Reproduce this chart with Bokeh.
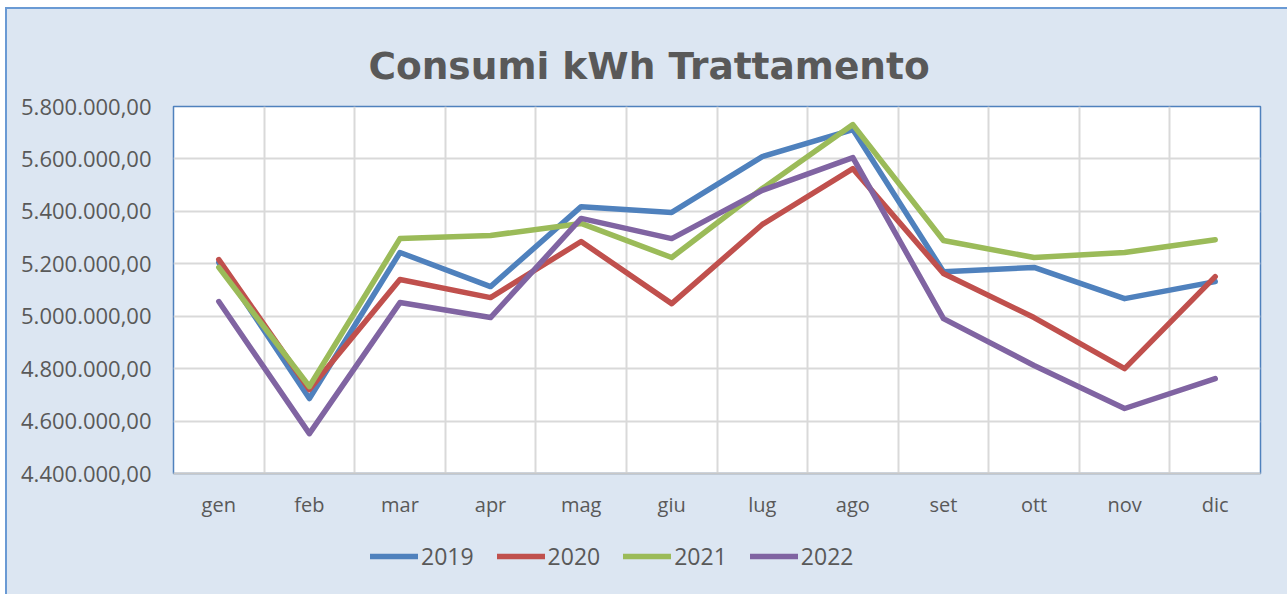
from bokeh.plotting import figure
from bokeh.layouts import column, row
from bokeh.models import FixedTicker, Legend, LegendItem, Range1d, Spacer, Label
from bokeh.embed import file_html
from bokeh.resources import INLINE

months = ["gen", "feb", "mar", "apr", "mag", "giu", "lug", "ago", "set", "ott", "nov", "dic"]
years = ["2019", "2020", "2021", "2022"]
v2019 = [5205000, 4686000, 5243000, 5113000, 5418000, 5396000, 5609000, 5712000, 5170000, 5186000, 5067000, 5132000]
v2020 = [5216000, 4720000, 5140000, 5071000, 5285000, 5048000, 5350000, 5563000, 5163000, 4995000, 4800000, 5151000]
v2021 = [5186000, 4732000, 5296000, 5308000, 5354000, 5224000, 5487000, 5731000, 5289000, 5224000, 5243000, 5292000]
v2022 = [5056000, 4552000, 5052000, 4995000, 5373000, 5296000, 5480000, 5605000, 4991000, 4812000, 4648000, 4762000]
y_ticks = [4400000, 4600000, 4800000, 5000000, 5200000, 5400000, 5600000, 5800000]
title_text = "Consumi kWh Trattamento"

series = [v2019, v2020, v2021, v2022]
colors = ["#4F81BD", "#C0504D", "#9BBB59", "#8064A2"]
BG = "#DCE6F2"
EDGE = "#6A9AD4"

def it_fmt(v):
    s = f"{v:,.2f}"
    return s.replace(",", "X").replace(".", ",").replace("X", ".")

TOTAL_W, TOTAL_H = 1287, 594
OX, OY = 7, 9                      # chart area starts after white gap + blue edge
FL, FR, FT, FB = 173, 1260, 106, 473   # frame edges on the page
TOP_PAD = 16                       # room above the frame for the top tick label
W = TOTAL_W - OX
H_TITLE = FT - OY - TOP_PAD
H_MAIN = 530 - FT + TOP_PAD
H_LEG = TOTAL_H - 530
MBL, MBR = FL - OX, TOTAL_W - FR

# title strip
tf = figure(width=W, height=H_TITLE, output_backend="svg", toolbar_location=None,
            x_range=Range1d(0, 1), y_range=Range1d(0, H_TITLE),
            min_border_left=MBL, min_border_right=MBR, min_border_top=0, min_border_bottom=0)
tf.axis.visible = False
tf.grid.visible = False
tf.outline_line_color = None
tf.background_fill_alpha = 0
tf.border_fill_color = BG
tf.add_layout(Label(x=0.4375, y=(OY + H_TITLE) - 65, text=title_text, text_align="center",
                    text_baseline="alphabetic", text_font="DejaVu Sans", text_font_style="bold",
                    text_font_size="37.5px", text_color="#595959"))

# main chart
p = figure(width=W, height=H_MAIN, output_backend="svg", toolbar_location=None,
           x_range=Range1d(0, len(months)), y_range=Range1d(y_ticks[0], y_ticks[-1]),
           min_border_left=MBL, min_border_right=MBR, min_border_top=TOP_PAD,
           min_border_bottom=H_MAIN - TOP_PAD - (FB - FT))
p.background_fill_color = "white"
p.border_fill_color = BG
p.outline_line_color = "#4F81BD"
p.outline_line_width = 1.5

xs = [i + 0.5 for i in range(len(months))]
p.xaxis.ticker = FixedTicker(ticks=xs)
p.xaxis.major_label_overrides = {x: m for x, m in zip(xs, months)}
p.xgrid.ticker = FixedTicker(ticks=list(range(1, len(months))))
p.yaxis.ticker = FixedTicker(ticks=y_ticks)
p.yaxis.major_label_overrides = {t: it_fmt(t) for t in y_ticks}

for ax in (p.xaxis[0], p.yaxis[0]):
    ax.major_label_text_font = "Open Sans"
    ax.major_label_text_color = "#595959"
    ax.major_tick_line_color = None
    ax.minor_tick_line_color = None
p.xaxis.major_label_text_font_size = "20px"
p.yaxis.major_label_text_font_size = "22px"
p.yaxis.axis_line_color = None
p.xaxis.axis_line_color = "#C8C8C8"
p.xaxis.axis_line_width = 2
p.yaxis.major_label_standoff = 16
p.xaxis.major_label_standoff = 11

p.xgrid.grid_line_color = "#D9D9D9"
p.xgrid.grid_line_width = 2
p.ygrid.grid_line_color = "#D9D9D9"
p.ygrid.grid_line_width = 2

for vals, c in zip(series, colors):
    p.line(xs, vals, line_color=c, line_width=5.5, line_cap="round", line_join="round")

# legend strip (its lines lie outside its own ranges; only the legend shows)
lf = figure(width=W, height=H_LEG, output_backend="svg", toolbar_location=None,
            x_range=Range1d(-3, -2), y_range=Range1d(0, 1),
            min_border_left=MBL, min_border_right=MBR, min_border_top=0, min_border_bottom=0)
lf.axis.visible = False
lf.grid.visible = False
lf.outline_line_color = None
lf.background_fill_alpha = 0
lf.border_fill_color = BG

items = []
for name, vals, c in zip(years, series, colors):
    r = lf.line(xs, vals, line_color=c, line_width=5.5, line_cap="round")
    items.append(LegendItem(label=name, renderers=[r]))

leg = Legend(items=items, orientation="horizontal", location=(197, H_LEG - 56 + 14))
leg.glyph_width = 48
leg.label_standoff = 3
leg.spacing = 23
leg.label_text_font = "Open Sans"
leg.label_text_font_size = "23px"
leg.label_text_color = "#595959"
leg.background_fill_alpha = 0
leg.border_line_color = None
leg.border_line_alpha = 0
leg.margin = 0
leg.padding = 5
lf.add_layout(leg, "center")

chart = column(tf, p, lf, spacing=0, styles={"background-color": BG})
top_edge = Spacer(width=W + 2, height=2, styles={"background-color": EDGE})
left_edge = Spacer(width=2, height=H_TITLE + H_MAIN + H_LEG, styles={"background-color": EDGE})
framed = column(top_edge, row(left_edge, chart, spacing=0), spacing=0)
layout = column(Spacer(width=10, height=OY - 2),
                row(Spacer(width=OX - 2, height=10), framed, spacing=0), spacing=0)
open("out.html", "w").write(file_html(layout, INLINE))
